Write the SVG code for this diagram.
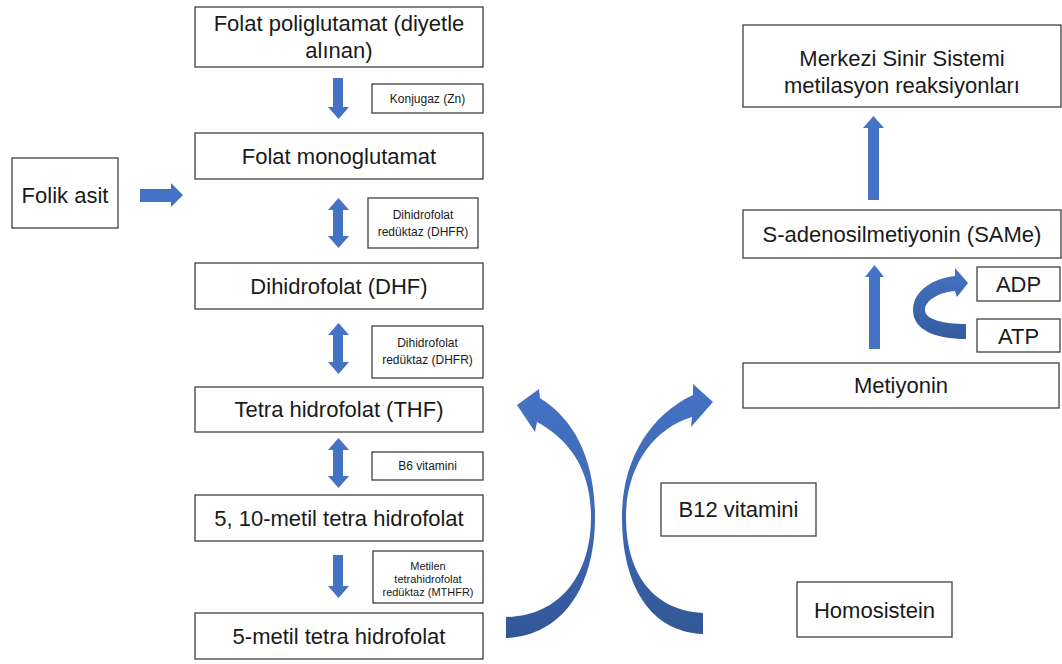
<svg xmlns="http://www.w3.org/2000/svg" width="1062" height="664" viewBox="0 0 1062 664">
<defs>
<linearGradient id="gv" x1="0" y1="0" x2="0" y2="1">
<stop offset="0" stop-color="#4472C4"/>
<stop offset="0.5" stop-color="#3F69B5"/>
<stop offset="1" stop-color="#325796"/>
</linearGradient>
<linearGradient id="gs" x1="0" y1="0" x2="0" y2="1">
<stop offset="0" stop-color="#4472C4"/>
<stop offset="1" stop-color="#355C9E"/>
</linearGradient>
<style>
.box{fill:#fff;stroke:#3f3f3f;stroke-width:1.3}
.t{font-family:"Liberation Sans",Arial,sans-serif;font-size:22px;fill:#1a1a1a;text-anchor:middle}
.s{font-family:"Liberation Sans",Arial,sans-serif;font-size:12px;fill:#1a1a1a;text-anchor:middle}
.xs{font-family:"Liberation Sans",Arial,sans-serif;font-size:11px;fill:#1a1a1a;text-anchor:middle}
.ar{fill:#4472C4}
</style>
</defs>
<rect width="1062" height="664" fill="#fff"/>

<g id="n-poliglutamat"><rect class="box" x="195" y="7" width="288" height="60"/><text class="t" x="339" y="31">Folat poliglutamat (diyetle</text><text class="t" x="339" y="58">alınan)</text></g>
<g id="n-konjugaz"><rect class="box" x="372" y="84" width="111" height="29"/><text class="s" x="427.5" y="102.5">Konjugaz (Zn)</text></g>
<g id="n-monoglutamat"><rect class="box" x="195" y="133" width="288" height="46"/><text class="t" x="339" y="164">Folat monoglutamat</text></g>
<g id="n-folik"><rect class="box" x="12" y="158" width="106" height="70"/><text class="t" x="65" y="203">Folik asit</text></g>
<g id="n-dhfr1"><rect class="box" x="368" y="198" width="110" height="50"/><text class="s" x="423" y="219">Dihidrofolat</text><text class="s" x="423" y="236">redüktaz (DHFR)</text></g>
<g id="n-dhf"><rect class="box" x="195" y="263" width="288" height="46"/><text class="t" x="339" y="294">Dihidrofolat (DHF)</text></g>
<g id="n-dhfr2"><rect class="box" x="372" y="326" width="111" height="52"/><text class="s" x="427.5" y="347">Dihidrofolat</text><text class="s" x="427.5" y="364">redüktaz (DHFR)</text></g>
<g id="n-thf"><rect class="box" x="195" y="387" width="288" height="45"/><text class="t" x="339" y="417">Tetra hidrofolat (THF)</text></g>
<g id="n-b6"><rect class="box" x="372" y="452" width="111" height="28"/><text class="s" x="427.5" y="470">B6 vitamini</text></g>
<g id="n-510metil"><rect class="box" x="195" y="495" width="288" height="46"/><text class="t" x="339" y="526">5, 10-metil tetra hidrofolat</text></g>
<g id="n-mthfr"><rect class="box" x="373" y="551" width="110" height="52"/><text class="xs" x="428" y="570">Metilen</text><text class="xs" x="428" y="583">tetrahidrofolat</text><text class="xs" x="428" y="596">redüktaz (MTHFR)</text></g>
<g id="n-5metil"><rect class="box" x="195" y="613" width="288" height="46"/><text class="t" x="339" y="644">5-metil tetra hidrofolat</text></g>

<g id="n-merkezi"><rect class="box" x="743" y="25" width="318" height="82"/><text class="t" x="902" y="66">Merkezi Sinir Sistemi</text><text class="t" x="902" y="93">metilasyon reaksiyonları</text></g>
<g id="n-same"><rect class="box" x="743" y="210" width="318" height="48"/><text class="t" x="902" y="242">S-adenosilmetiyonin (SAMe)</text></g>
<g id="n-adp"><rect class="box" x="977" y="267" width="83" height="34"/><text class="t" x="1018.5" y="292">ADP</text></g>
<g id="n-atp"><rect class="box" x="977" y="319" width="83" height="33"/><text class="t" x="1018.5" y="344">ATP</text></g>
<g id="n-metiyonin"><rect class="box" x="743" y="363" width="316" height="45"/><text class="t" x="901" y="393">Metiyonin</text></g>
<g id="n-b12"><rect class="box" x="661" y="483" width="155" height="53"/><text class="t" x="738.5" y="517">B12 vitamini</text></g>
<g id="n-homosistein"><rect class="box" x="797" y="582" width="155" height="55"/><text class="t" x="874.5" y="618">Homosistein</text></g>

<g id="connectors">
<polygon class="ar" points="333,78 343,78 343,107 349,107 338.5,119 328,107 333,107"/>
<polygon class="ar" points="140,189 171,189 171,183 183,195 171,207 171,202 140,202"/>
<polygon class="ar" points="338.5,198 349,210 343,210 343,236 349,236 338.5,248 328,236 333,236 333,210 328,210"/>
<polygon class="ar" points="338.5,323 349,335 343,335 343,362 349,362 338.5,374 328,362 333,362 333,335 328,335"/>
<polygon class="ar" points="338.5,438 349,450 343,450 343,476 349,476 338.5,488 328,476 333,476 333,450 328,450"/>
<polygon class="ar" points="333,555 343,555 343,586 349,586 338.5,598 328,586 333,586"/>
<polygon class="ar" points="873.5,116 884,128 879,128 879,200 868,200 868,128 863,128"/>
<polygon class="ar" points="874.5,265 884,277 880,277 880,349 869,349 869,277 865,277"/>
<path fill="url(#gs)" d="M966,339 C935,339 913,330 913,310 C913,290 935,278 955,276 L955,268 L968,283 L957,297 L955,291 C940,292 925,300 925,310 C925,320 945,324 966,324 Z"/>
<path fill="url(#gv)" d="M506,638 C560,636 595,590 595,517 C595,460 575,420 540,398 L539,389 L517,405 L535,432 L537,422 C570,440 591,470 591,517 C591,575 560,616 506,617 Z"/>
<path fill="url(#gv)" d="M703,634 C650,632 622,585 622,517 C622,460 650,415 693,395 L693,384 L713,402 L691,427 L692,417 C655,428 626,465 626,517 C626,570 650,610 703,613 Z"/>
</g>
</svg>
